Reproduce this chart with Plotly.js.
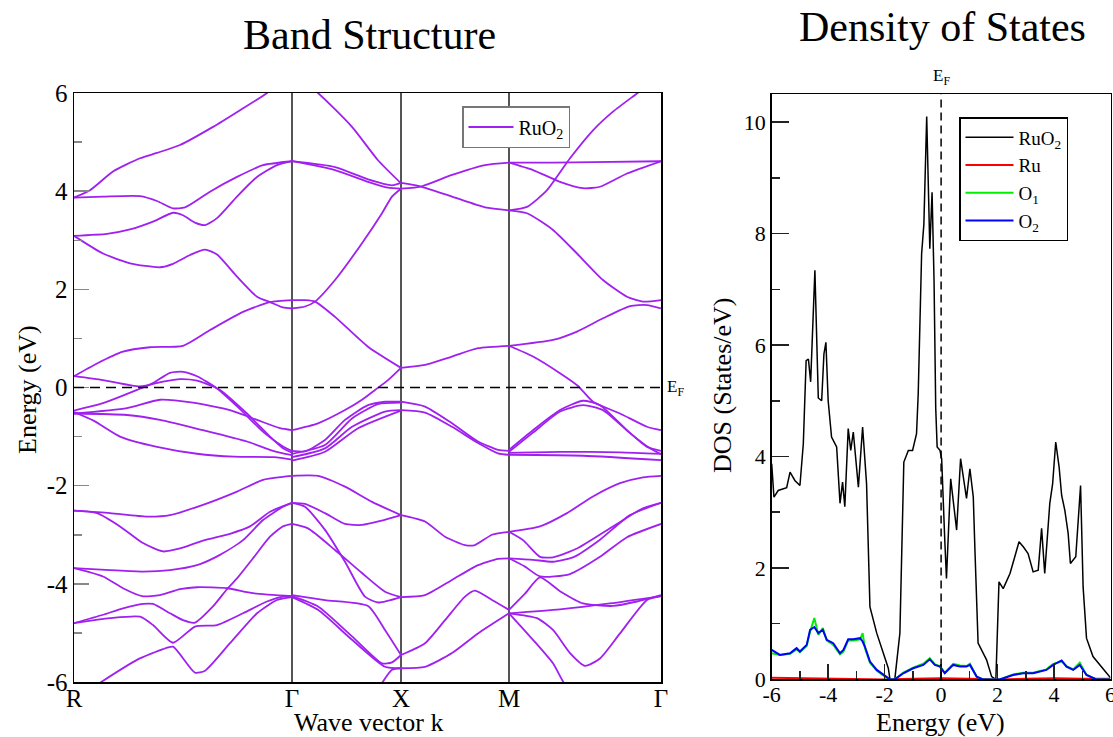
<!DOCTYPE html>
<html>
<head>
<meta charset="utf-8">
<script src="https://cdn.plot.ly/plotly-3.0.1.min.js"></script>
<style>
  html, body { margin: 0; padding: 0; background: #fff; }
  #chart { width: 1113px; height: 737px; }
</style>
</head>
<body>
<div id="chart"></div>
<script>
// High-symmetry points along the k path (path length units)
const kTicks = [0, 2.18, 3.27, 4.35, 5.87];
const kLabels = ['R', 'Γ', 'X', 'M', 'Γ'];

// Band energies (eV) as [k, E] pairs, one list per band branch, per path segment
const bandsRG = [
  [[0,3.87],[0.16,4.02],[0.39,4.40],[0.66,4.67],[0.83,4.78],[1.06,4.94],[1.39,5.31],[1.66,5.65],[1.93,6.00],[2.06,6.25]],
  [[0,3.87],[0.29,3.89],[0.66,3.90],[0.83,3.80],[0.99,3.65],[1.11,3.67],[1.36,3.99],[1.63,4.29],[1.89,4.53],[2.18,4.61]],
  [[0,3.09],[0.33,3.13],[0.56,3.22],[0.79,3.38],[0.99,3.56],[1.09,3.51],[1.21,3.36],[1.31,3.31],[1.43,3.45],[1.63,3.89],[1.83,4.29],[2.03,4.53],[2.18,4.61]],
  [[0,3.09],[0.29,2.73],[0.56,2.53],[0.86,2.45],[0.99,2.52],[1.16,2.70],[1.31,2.81],[1.43,2.71],[1.63,2.26],[1.83,1.85],[1.96,1.74],[2.09,1.63],[2.18,1.61]],
  [[0,0.23],[0.23,0.49],[0.49,0.73],[0.76,0.82],[1.09,0.85],[1.36,1.17],[1.69,1.54],[1.96,1.74],[2.18,1.78]],
  [[0,0.23],[0.29,0.15],[0.66,0.02],[0.89,0.12],[1.06,0.17],[1.23,0.14],[1.39,0.02],[1.46,-0.05],[1.73,-0.53],[1.96,-1.00],[2.09,-1.24],[2.18,-1.33]],
  [[0,-0.47],[0.29,-0.32],[0.63,-0.05],[0.79,0.09],[0.96,0.30],[1.09,0.32],[1.23,0.23],[1.43,-0.02],[1.65,-0.42],[1.90,-0.92],[2.09,-1.20],[2.18,-1.29]],
  [[0,-0.53],[0.53,-0.42],[0.86,-0.25],[1.19,-0.31],[1.56,-0.46],[1.83,-0.66],[2.06,-0.83],[2.18,-0.87]],
  [[0,-0.53],[0.53,-0.56],[0.86,-0.66],[1.29,-0.87],[1.73,-1.10],[1.99,-1.29],[2.18,-1.38]],
  [[0,-0.50],[0.20,-0.68],[0.46,-1.00],[0.83,-1.21],[1.23,-1.35],[1.60,-1.41],[2.00,-1.42],[2.18,-1.47]],
  [[0,-2.51],[0.36,-2.56],[0.73,-2.63],[0.96,-2.60],[1.29,-2.39],[1.63,-2.12],[1.89,-1.88],[2.09,-1.82],[2.18,-1.80]],
  [[0,-2.51],[0.23,-2.56],[0.46,-2.83],[0.69,-3.17],[0.89,-3.34],[1.06,-3.28],[1.29,-3.12],[1.56,-2.98],[1.76,-2.83],[1.96,-2.53],[2.18,-2.35]],
  [[0,-3.68],[0.36,-3.72],[0.69,-3.75],[0.96,-3.72],[1.23,-3.62],[1.46,-3.41],[1.69,-3.11],[1.89,-2.70],[2.09,-2.43],[2.18,-2.35]],
  [[0,-3.68],[0.29,-3.85],[0.49,-4.09],[0.68,-4.25],[0.86,-4.23],[1.06,-4.11],[1.23,-4.07],[1.53,-4.09],[1.79,-4.19],[2.18,-4.25]],
  [[0,-4.80],[0.29,-4.63],[0.49,-4.50],[0.69,-4.41],[0.79,-4.41],[0.96,-4.60],[1.09,-4.74],[1.21,-4.79],[1.39,-4.46],[1.53,-4.11],[1.63,-3.89],[1.79,-3.48],[1.96,-3.04],[2.09,-2.83],[2.18,-2.78]],
  [[0,-4.80],[0.36,-4.70],[0.66,-4.67],[0.79,-4.84],[0.99,-5.20],[1.21,-4.87],[1.43,-4.84],[1.69,-4.60],[1.93,-4.36],[2.09,-4.26],[2.18,-4.25]],
  [[0.20,-6.10],[0.28,-5.99],[0.63,-5.55],[0.89,-5.33],[0.99,-5.28],[1.21,-5.81],[1.31,-5.77],[1.56,-5.21],[1.83,-4.60],[2.03,-4.33],[2.18,-4.27]]
];

const bandsGX = [
  [[2.18,6.40],[2.44,6.00],[2.78,5.31],[3.04,4.63],[3.27,4.16]],
  [[2.18,4.61],[2.61,4.43],[2.94,4.19],[3.14,4.07],[3.27,4.05]],
  [[2.18,4.61],[2.61,4.49],[2.94,4.24],[3.18,4.12],[3.27,4.17]],
  [[2.18,1.78],[2.31,1.78],[2.41,1.75],[2.61,1.44],[2.94,0.83],[3.27,0.40]],
  [[2.18,1.61],[2.31,1.65],[2.41,1.75],[2.61,2.19],[2.88,2.94],[3.08,3.55],[3.18,3.89],[3.27,4.05]],
  [[2.18,-0.87],[2.44,-0.73],[2.71,-0.46],[2.88,-0.25],[3.01,-0.05],[3.14,0.15],[3.27,0.40]],
  [[2.18,-1.29],[2.31,-1.30],[2.51,-1.07],[2.71,-0.66],[2.94,-0.36],[3.11,-0.29],[3.27,-0.29]],
  [[2.18,-1.35],[2.51,-1.17],[2.78,-0.63],[3.04,-0.34],[3.27,-0.31]],
  [[2.18,-1.42],[2.51,-1.24],[2.78,-0.80],[3.11,-0.49],[3.27,-0.46]],
  [[2.18,-1.49],[2.51,-1.31],[2.84,-0.83],[3.27,-0.47]],
  [[2.18,-1.80],[2.44,-1.80],[2.71,-2.02],[2.98,-2.33],[3.27,-2.60]],
  [[2.18,-2.35],[2.31,-2.37],[2.51,-2.56],[2.71,-2.78],[2.88,-2.80],[3.08,-2.71],[3.27,-2.60]],
  [[2.18,-2.35],[2.31,-2.43],[2.51,-2.90],[2.71,-3.55],[2.91,-4.26],[3.04,-4.38],[3.27,-4.27]],
  [[2.18,-2.78],[2.34,-2.87],[2.61,-3.31],[2.88,-3.78],[3.11,-4.16],[3.27,-4.27]],
  [[2.18,-4.23],[2.51,-4.33],[2.94,-4.45],[3.11,-4.94],[3.27,-5.45]],
  [[2.18,-4.25],[2.44,-4.46],[2.78,-5.07],[3.08,-5.62],[3.18,-5.60],[3.27,-5.45]],
  [[2.18,-4.27],[2.44,-4.53],[2.78,-5.14],[3.11,-5.69],[3.27,-5.72]],
  [[3.06,-6.10],[3.09,-5.99],[3.18,-5.75],[3.27,-5.72]]
];

const bandsXM = [
  [[3.27,4.05],[3.48,4.10],[3.78,4.33],[4.11,4.53],[4.35,4.58]],
  [[3.27,4.17],[3.46,4.10],[3.78,3.89],[4.11,3.67],[4.35,3.61]],
  [[3.27,0.40],[3.51,0.46],[3.78,0.63],[4.04,0.80],[4.35,0.85]],
  [[3.27,-0.29],[3.51,-0.39],[3.78,-0.73],[4.04,-1.10],[4.24,-1.27],[4.35,-1.29]],
  [[3.27,-0.46],[3.51,-0.51],[3.78,-0.80],[4.04,-1.13],[4.24,-1.34],[4.35,-1.37]],
  [[3.27,-2.60],[3.51,-2.73],[3.71,-3.04],[3.91,-3.21],[4.01,-3.21],[4.18,-3.00],[4.35,-2.94]],
  [[3.27,-4.27],[3.51,-4.23],[3.78,-3.92],[4.04,-3.62],[4.24,-3.49],[4.35,-3.48]],
  [[3.27,-5.45],[3.51,-5.21],[3.71,-4.74],[3.91,-4.26],[4.01,-4.14],[4.18,-4.33],[4.35,-4.53]],
  [[3.27,-5.72],[3.51,-5.69],[3.78,-5.41],[4.04,-5.01],[4.35,-4.60]]
];

const bandsMG = [
  [[4.35,3.61],[4.53,3.68],[4.73,4.02],[4.96,4.67],[5.19,5.24],[5.39,5.62],[5.63,5.99],[5.70,6.10]],
  [[4.35,4.58],[4.79,4.58],[5.19,4.59],[5.87,4.61]],
  [[4.35,4.58],[4.59,4.43],[4.86,4.19],[5.09,4.06],[5.26,4.09],[5.53,4.36],[5.87,4.61]],
  [[4.35,3.61],[4.53,3.55],[4.79,3.21],[5.03,2.73],[5.29,2.19],[5.53,1.85],[5.69,1.75],[5.87,1.78]],
  [[4.35,0.85],[4.79,0.97],[5.03,1.14],[5.29,1.41],[5.56,1.66],[5.73,1.68],[5.87,1.61]],
  [[4.35,0.85],[4.59,0.63],[4.86,0.29],[5.04,0.03],[5.19,-0.29],[5.46,-0.53],[5.73,-0.80],[5.87,-0.87]],
  [[4.35,-1.27],[4.59,-0.87],[4.86,-0.46],[5.09,-0.27],[5.26,-0.36],[5.53,-0.87],[5.73,-1.21],[5.87,-1.29]],
  [[4.35,-1.31],[4.59,-0.92],[4.86,-0.49],[5.09,-0.36],[5.29,-0.46],[5.56,-0.93],[5.76,-1.24],[5.87,-1.36]],
  [[4.35,-1.33],[4.86,-1.31],[5.46,-1.32],[5.87,-1.35]],
  [[4.35,-1.37],[5.09,-1.39],[5.87,-1.48]],
  [[4.35,-2.94],[4.66,-2.83],[4.93,-2.56],[5.19,-2.22],[5.46,-1.95],[5.69,-1.83],[5.87,-1.80]],
  [[4.35,-2.94],[4.49,-3.11],[4.66,-3.45],[4.79,-3.46],[5.03,-3.28],[5.39,-2.83],[5.69,-2.46],[5.87,-2.35]],
  [[4.35,-3.48],[4.59,-3.51],[4.79,-3.55],[5.00,-3.45],[5.26,-3.10],[5.56,-2.60],[5.87,-2.35]],
  [[4.35,-3.48],[4.51,-3.65],[4.66,-3.85],[4.96,-3.80],[5.26,-3.45],[5.53,-3.05],[5.87,-2.78]],
  [[4.35,-4.53],[4.51,-4.20],[4.66,-3.87],[4.86,-4.15],[5.09,-4.40],[5.39,-4.45],[5.63,-4.36],[5.87,-4.23]],
  [[4.35,-4.60],[4.86,-4.52],[5.36,-4.40],[5.87,-4.25]],
  [[4.35,-4.60],[4.63,-4.70],[4.79,-4.94],[4.96,-5.41],[5.11,-5.67],[5.26,-5.52],[5.46,-5.01],[5.73,-4.33],[5.87,-4.25]],
  [[4.35,-4.60],[4.59,-5.14],[4.79,-5.62],[4.89,-5.99],[4.95,-6.15]]
];

// Total density of states (states/eV) vs energy (eV)
const dosEnergy = [-6.00,-5.92,-5.77,-5.47,-5.35,-5.18,-5.00,-4.88,-4.78,-4.70,-4.62,-4.47,-4.35,-4.23,-4.15,-4.08,-4.00,-3.88,-3.76,-3.70,-3.58,-3.49,-3.41,-3.29,-3.20,-3.11,-2.93,-2.78,-2.64,-2.52,-2.28,-1.99,-1.87,-1.81,-1.64,-1.46,-1.32,-1.16,-1.01,-0.87,-0.81,-0.69,-0.61,-0.51,-0.44,-0.40,-0.32,-0.25,-0.19,-0.14,-0.04,0.02,0.13,0.19,0.34,0.43,0.55,0.69,0.78,0.90,1.02,1.14,1.20,1.31,1.61,1.79,1.94,2.05,2.20,2.44,2.61,2.76,2.91,3.08,3.26,3.44,3.56,3.67,3.85,3.95,4.06,4.18,4.27,4.38,4.50,4.58,4.77,4.94,5.03,5.15,5.38,5.74,5.98,6.00];
const dosTotal  = [3.87,3.27,3.39,3.44,3.72,3.57,3.48,4.23,5.72,5.75,5.34,7.34,5.05,5.00,5.84,6.05,5.00,4.35,4.23,4.17,3.16,3.54,3.10,4.50,4.11,4.44,3.45,4.53,3.51,1.30,0.83,0.41,0.20,0.00,0.00,0.83,3.90,4.11,4.11,4.41,5.13,7.64,8.17,10.10,8.17,7.73,8.74,7.16,4.86,4.17,4.11,3.96,2.50,1.81,3.60,3.21,2.68,3.96,3.66,3.25,3.78,3.27,2.30,0.65,0.35,0.05,0.00,1.75,1.63,1.90,2.20,2.47,2.38,2.26,1.93,1.96,2.71,1.90,3.16,3.51,4.26,3.81,3.30,3.04,2.62,2.08,2.20,3.48,1.66,0.74,0.41,0.20,0.05,0.03];

// Projected DOS of the Ru site (nearly zero in this window)
const pdosRuEnergy = [-6,-5,-4,-3,-2,-1,0,1,2,3,4,5,6];
const pdosRu = [0.03,0.02,0.02,0.01,0.00,0.01,0.02,0.01,0.00,0.01,0.02,0.01,0.01];

// Projected DOS of the two oxygen sites
const pdosOEnergy = [-6.00,-5.71,-5.35,-5.12,-5.00,-4.76,-4.64,-4.49,-4.35,-4.19,-4.05,-3.82,-3.58,-3.46,-3.29,-3.11,-2.87,-2.78,-2.70,-2.52,-2.28,-1.99,-1.81,-1.64,-1.34,-0.99,-0.63,-0.40,-0.22,-0.04,0.13,0.43,0.67,0.90,1.02,1.26,1.48,2.08,2.55,2.91,3.26,3.73,3.97,4.27,4.44,4.68,4.91,5.15,5.50,5.98];
const pdosO1 = [0.47,0.44,0.46,0.54,0.49,0.60,0.86,1.10,0.80,0.92,0.70,0.62,0.45,0.50,0.70,0.70,0.72,0.83,0.57,0.30,0.16,0.05,0.00,0.00,0.12,0.21,0.28,0.38,0.27,0.24,0.12,0.28,0.25,0.24,0.28,0.05,0.00,0.00,0.09,0.12,0.12,0.18,0.28,0.32,0.24,0.18,0.30,0.08,0.00,0.00];
const pdosO2 = [0.53,0.44,0.47,0.56,0.50,0.62,0.89,0.94,0.83,0.89,0.71,0.65,0.47,0.53,0.72,0.72,0.74,0.68,0.59,0.32,0.17,0.06,0.00,0.00,0.11,0.20,0.26,0.36,0.26,0.23,0.11,0.26,0.23,0.23,0.26,0.05,0.00,0.00,0.08,0.11,0.11,0.17,0.26,0.34,0.23,0.17,0.26,0.08,0.00,0.00];

function joinBranches(groups) {
  const x = [], y = [];
  groups.forEach(g => g.forEach(branch => {
    branch.forEach(p => { x.push(p[0]); y.push(p[1]); });
    x.push(null); y.push(null);
  }));
  return { x, y };
}

const serif = 'Liberation Serif, Times New Roman, serif';
const bands = joinBranches([bandsRG, bandsGX, bandsXM, bandsMG]);

const traces = [
  {
    x: bands.x, y: bands.y, xaxis: 'x', yaxis: 'y', mode: 'lines', name: 'RuO<sub>2</sub>',
    line: { color: '#a020f0', width: 1.8, shape: 'spline', smoothing: 0.6 },
    connectgaps: false, legend: 'legend', hoverinfo: 'skip'
  },
  { x: dosEnergy, y: dosTotal, xaxis: 'x2', yaxis: 'y2', mode: 'lines', name: 'RuO<sub>2</sub>',
    line: { color: '#000000', width: 1.5 }, legend: 'legend2' },
  { x: pdosRuEnergy, y: pdosRu, xaxis: 'x2', yaxis: 'y2', mode: 'lines', name: 'Ru',
    line: { color: '#ff0000', width: 2 }, legend: 'legend2' },
  { x: pdosOEnergy, y: pdosO1, xaxis: 'x2', yaxis: 'y2', mode: 'lines', name: 'O<sub>1</sub>',
    line: { color: '#00ee00', width: 2 }, legend: 'legend2' },
  { x: pdosOEnergy, y: pdosO2, xaxis: 'x2', yaxis: 'y2', mode: 'lines', name: 'O<sub>2</sub>',
    line: { color: '#0000ff', width: 2 }, legend: 'legend2' }
];

const W = 1113, H = 737;
const px = v => v / W;
const py = v => 1 - v / H;
const evTicks = [-6, -4, -2, 0, 2, 4, 6];
const evText = evTicks.map(v => String(v));

const layout = {
  width: W, height: H,
  margin: { l: 0, r: 0, t: 0, b: 0 },
  paper_bgcolor: '#ffffff', plot_bgcolor: '#ffffff',
  font: { family: serif, color: '#000' },
  showlegend: true,
  xaxis: {
    domain: [px(74), px(661)], range: [kTicks[0], kTicks[4]], anchor: 'y',
    tickmode: 'array', tickvals: kTicks, ticktext: kLabels, ticks: '', ticklabelstandoff: -7,
    showgrid: true, gridcolor: '#555', gridwidth: 1.2, zeroline: false,
    showline: true, mirror: true, linecolor: '#000', linewidth: 1.5,
    tickfont: { family: serif, size: 25, color: '#000' }, fixedrange: true
  },
  yaxis: {
    domain: [1 - 682 / H, 1 - 93 / H], range: [-6, 6], anchor: 'x',
    tickmode: 'array', tickvals: evTicks, ticktext: evText,
    ticks: 'inside', ticklen: 15, tickwidth: 1.5, tickcolor: '#888',
    minor: { tickvals: [-5, -3, -1, 1, 3, 5], ticks: 'inside', ticklen: 8, tickwidth: 1.5, tickcolor: '#888' },
    showgrid: false, zeroline: false, showline: true, mirror: true, linecolor: '#000', linewidth: 1.5,
    tickfont: { family: serif, size: 25, color: '#000' }, fixedrange: true
  },
  xaxis2: {
    domain: [px(771.7), px(1110.5)], range: [-6, 6], anchor: 'y2',
    tickmode: 'array', tickvals: evTicks, ticktext: evText, ticklabelstandoff: -5,
    ticklabeloverflow: 'allow',
    ticks: 'inside', ticklen: 15, tickwidth: 1.5, tickcolor: '#222',
    minor: { tickvals: [-5, -3, -1, 1, 3, 5], ticks: 'inside', ticklen: 8, tickwidth: 1.5, tickcolor: '#222' },
    showgrid: false, zeroline: false, showline: true, mirror: true, linecolor: '#000', linewidth: 1.5,
    tickfont: { family: serif, size: 22, color: '#000' }, fixedrange: true
  },
  yaxis2: {
    domain: [1 - 679.4 / H, 1 - 94.3 / H], range: [0, 10.5], anchor: 'x2',
    tickmode: 'linear', tick0: 0, dtick: 2,
    ticks: 'inside', ticklen: 17, tickwidth: 1.5, tickcolor: '#222',
    minor: { dtick: 1, ticks: 'inside', ticklen: 8, tickwidth: 1.5, tickcolor: '#222' },
    showgrid: false, zeroline: false, showline: true, mirror: true, linecolor: '#000', linewidth: 1.5,
    tickfont: { family: serif, size: 22, color: '#000' }, fixedrange: true
  },
  legend: {
    x: px(462), y: py(106), xanchor: 'left', yanchor: 'top',
    bgcolor: '#fff', bordercolor: '#777', borderwidth: 1.5,
    font: { family: serif, size: 20, color: '#000' }, itemwidth: 45,
    entrywidth: 108
  },
  legend2: {
    x: px(959), y: py(117), xanchor: 'left', yanchor: 'top',
    bgcolor: '#fff', bordercolor: '#000', borderwidth: 1.5,
    font: { family: serif, size: 19, color: '#000' }, itemwidth: 48,
    tracegroupgap: 0, entrywidth: 113
  },
  shapes: [
    { type: 'line', xref: 'x domain', x0: 0, x1: 1, yref: 'y', y0: 0, y1: 0,
      line: { color: '#000', width: 1.5, dash: '10px,6px' } },
    { type: 'line', xref: 'x2', x0: 0, x1: 0, yref: 'y2 domain', y0: 0, y1: 1,
      line: { color: '#000', width: 1.5, dash: '8px,5px' } }
  ],
  annotations: [
    { text: 'Band Structure', xref: 'paper', yref: 'paper', x: px(369), y: py(35),
      xanchor: 'center', yanchor: 'middle', showarrow: false, font: { family: serif, size: 42 } },
    { text: 'Density of States', xref: 'paper', yref: 'paper', x: px(942), y: py(27),
      xanchor: 'center', yanchor: 'middle', showarrow: false, font: { family: serif, size: 42 } },
    { text: 'Energy (eV)', xref: 'paper', yref: 'paper', x: px(27), y: py(390), textangle: -90,
      xanchor: 'center', yanchor: 'middle', showarrow: false, font: { family: serif, size: 26 } },
    { text: 'Wave vector k', xref: 'paper', yref: 'paper', x: px(369), y: py(722),
      xanchor: 'center', yanchor: 'middle', showarrow: false, font: { family: serif, size: 26 } },
    { text: 'DOS (States/eV)', xref: 'paper', yref: 'paper', x: px(723), y: py(386), textangle: -90,
      xanchor: 'center', yanchor: 'middle', showarrow: false, font: { family: serif, size: 26 } },
    { text: 'Energy (eV)', xref: 'paper', yref: 'paper', x: px(940), y: py(722),
      xanchor: 'center', yanchor: 'middle', showarrow: false, font: { family: serif, size: 26 } },
    { text: 'E<sub>F</sub>', xref: 'x domain', yref: 'y', x: 1, y: 0, xshift: 4,
      xanchor: 'left', yanchor: 'middle', showarrow: false, font: { family: serif, size: 17 } },
    { text: 'E<sub>F</sub>', xref: 'x2', yref: 'y2 domain', x: 0, y: 1, yshift: 4,
      xanchor: 'center', yanchor: 'bottom', showarrow: false, font: { family: serif, size: 17 } }
  ]
};

Plotly.newPlot('chart', traces, layout, { staticPlot: true, displayModeBar: false });
</script>
</body>
</html>
